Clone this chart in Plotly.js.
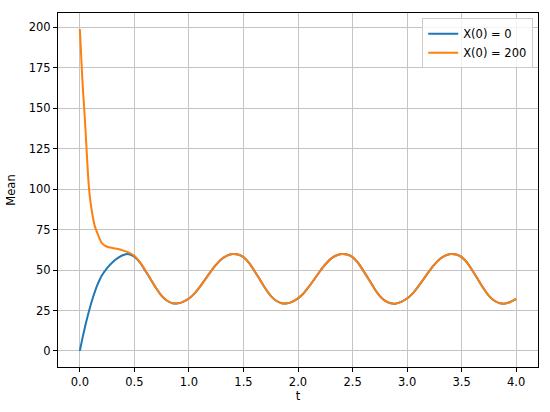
<!DOCTYPE html>
<html>
<head>
<meta charset="utf-8">
<script src="https://cdn.plot.ly/plotly-3.0.1.min.js"></script>
<style>
    body { margin: 0; background: white; }
    #chart { width: 550px; height: 412px; }
</style>
</head>
<body>
<div id="chart"></div>
<script>
// Time points (finer near t = 0 where X(0) = 200 drops fast)
const t = [
    0, 0.01, 0.02, 0.03, 0.04, 0.05, 0.06, 0.07, 0.08, 0.09, 0.10, 0.12, 0.14, 0.16, 0.18, 0.20,
    0.25, 0.30, 0.35, 0.40, 0.45, 0.50, 0.55, 0.60, 0.65, 0.70, 0.75, 0.80, 0.85, 0.90, 0.95,
    1.00, 1.05, 1.10, 1.15, 1.20, 1.25, 1.30, 1.35, 1.40, 1.45, 1.50, 1.55, 1.60, 1.65, 1.70, 1.75, 1.80, 1.85, 1.90, 1.95,
    2.00, 2.05, 2.10, 2.15, 2.20, 2.25, 2.30, 2.35, 2.40, 2.45, 2.50, 2.55, 2.60, 2.65, 2.70, 2.75, 2.80, 2.85, 2.90, 2.95,
    3.00, 3.05, 3.10, 3.15, 3.20, 3.25, 3.30, 3.35, 3.40, 3.45, 3.50, 3.55, 3.60, 3.65, 3.70, 3.75, 3.80, 3.85, 3.90, 3.95,
    4.00
];

// Mean, starting from X(0) = 0
const meanFrom0 = [
    0, 3.3, 6.5, 9.6, 12.6, 15.5, 18.3, 21.0, 23.6, 26.1, 28.5, 33.0, 37.0, 40.6, 43.7, 46.4,
    51.2, 54.8, 57.5, 59.3, 59.8, 58.2, 54.7, 49.6, 44.2, 38.7, 34.0, 31.0, 29.5, 29.4, 30.5,
    32.4, 35.4, 39.6, 44.3, 49.0, 53.3, 56.8, 58.9, 59.9, 59.6, 58.0, 54.6, 49.6, 44.2, 38.7, 34.0, 31.0, 29.5, 29.4, 30.5,
    32.5, 35.5, 39.7, 44.4, 49.1, 53.4, 56.9, 59.0, 59.9, 59.6, 58.0, 54.5, 49.5, 44.1, 38.6, 33.9, 30.9, 29.4, 29.3, 30.5,
    32.4, 35.4, 39.6, 44.3, 49.0, 53.3, 56.8, 58.9, 59.9, 59.6, 58.0, 54.6, 49.6, 44.2, 38.7, 34.0, 31.0, 29.5, 29.3, 30.4,
    32.2
];

// Mean, starting from X(0) = 200
const meanFrom200 = [
    199, 186, 172, 160, 150, 139, 127, 115, 104, 96.5, 91, 82.5, 76.5, 73, 69.5, 66.8,
    64.4, 63.6, 63.0, 62.0, 60.8, 58.8, 55.0, 49.9, 44.3, 38.7, 34.0, 31.0, 29.5, 29.4, 30.5,
    32.4, 35.4, 39.6, 44.3, 49.0, 53.3, 56.8, 58.9, 59.9, 59.6, 58.0, 54.6, 49.6, 44.2, 38.7, 34.0, 31.0, 29.5, 29.4, 30.5,
    32.5, 35.5, 39.7, 44.4, 49.1, 53.4, 56.9, 59.0, 59.9, 59.6, 58.0, 54.5, 49.5, 44.1, 38.6, 33.9, 30.9, 29.4, 29.3, 30.5,
    32.4, 35.4, 39.6, 44.3, 49.0, 53.3, 56.8, 58.9, 59.9, 59.6, 58.0, 54.6, 49.6, 44.2, 38.7, 34.0, 31.0, 29.5, 29.3, 30.4,
    32.2
];

const xTicks = [0, 0.5, 1, 1.5, 2, 2.5, 3, 3.5, 4];
const yTicks = [0, 25, 50, 75, 100, 125, 150, 175, 200];

const font = { family: 'DejaVu Sans, sans-serif', size: 11.5, color: 'black' };

const trace1 = {
    x: t,
    y: meanFrom0,
    name: 'X(0) = 0',
    type: 'scatter',
    mode: 'lines',
    line: { color: '#1f77b4', width: 2, shape: 'spline', smoothing: 0.6 }
};

const trace2 = {
    x: t,
    y: meanFrom200,
    name: 'X(0) = 200',
    type: 'scatter',
    mode: 'lines',
    line: { color: '#ff7f0e', width: 2, shape: 'spline', smoothing: 0.6 }
};

const axisStyle = {
    showline: true,
    mirror: true,
    linecolor: 'black',
    linewidth: 1,
    ticks: 'outside',
    ticklen: 4,
    tickcolor: 'black',
    showgrid: true,
    gridcolor: '#c4c4c4',
    gridwidth: 1,
    zeroline: false,
    tickfont: font
};

const layout = {
    width: 550,
    height: 412,
    paper_bgcolor: 'white',
    plot_bgcolor: 'white',
    font: font,
    margin: { l: 58, r: 12, t: 13, b: 45 },
    showlegend: true,
    xaxis: Object.assign({}, axisStyle, {
        range: [-0.2, 4.2],
        tickvals: xTicks,
        ticktext: xTicks.map(v => v.toFixed(1)),
        title: { text: 't', font: font, standoff: 4 }
    }),
    yaxis: Object.assign({}, axisStyle, {
        range: [-9.95, 208.9],
        tickvals: yTicks,
        title: { text: 'Mean', font: font, standoff: 10 }
    }),
    legend: {
        x: 0.99,
        y: 0.985,
        xanchor: 'right',
        yanchor: 'top',
        bgcolor: 'rgba(255,255,255,0.8)',
        bordercolor: '#cccccc',
        borderwidth: 1,
        font: font,
        tracegroupgap: 0
    }
};

Plotly.newPlot('chart', [trace1, trace2], layout, { staticPlot: true });
</script>
</body>
</html>
